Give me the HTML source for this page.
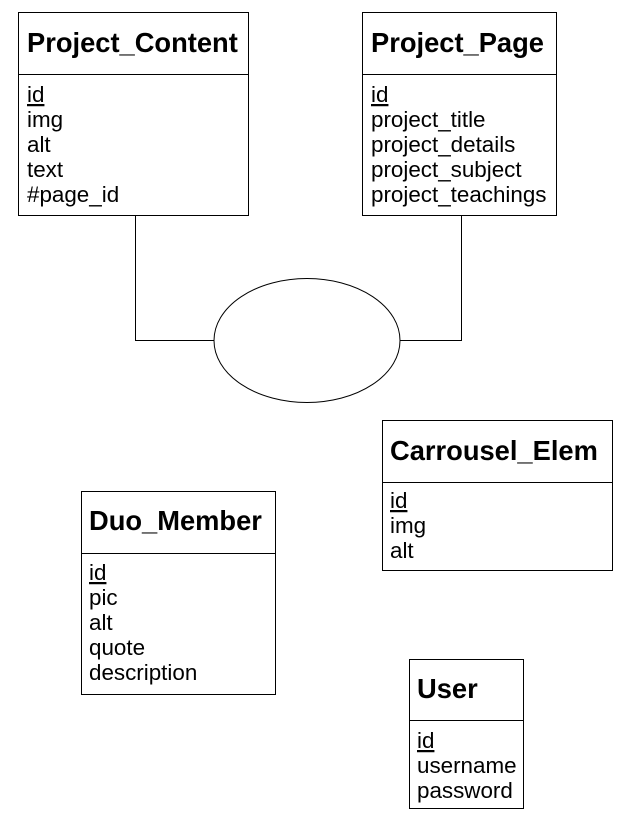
<!DOCTYPE html>
<html><head><meta charset="utf-8"><style>
html,body{margin:0;padding:0;background:#fff;}
svg{display:block;}
text{font-family:"Liberation Sans",sans-serif;fill:#000;}
.t{font-size:27.3px;font-weight:bold;}
.a{font-size:22.4px;}
</style></head><body>
<svg width="637" height="819" viewBox="0 0 637 819" xmlns="http://www.w3.org/2000/svg">
<g fill="none" stroke="#000" stroke-width="1">
<polyline points="135.5,215 135.5,340.5 214,340.5"/>
<polyline points="461.5,215 461.5,340.5 400,340.5"/>
<ellipse cx="307" cy="340.5" rx="93" ry="62"/>
<rect x="18.5" y="12.5" width="230" height="203"/><line x1="18.5" y1="74.5" x2="248.5" y2="74.5"/>
<rect x="362.5" y="12.5" width="194" height="203"/><line x1="362.5" y1="74.5" x2="556.5" y2="74.5"/>
<rect x="382.5" y="420.5" width="230" height="150"/><line x1="382.5" y1="482.5" x2="612.5" y2="482.5"/>
<rect x="81.5" y="491.5" width="194" height="203"/><line x1="81.5" y1="553.5" x2="275.5" y2="553.5"/>
<rect x="409.5" y="659.5" width="114" height="149"/><line x1="409.5" y1="720.5" x2="523.5" y2="720.5"/>
</g>
<text class="t" x="27" y="52">Project_Content</text>
<text class="a" x="27" y="102" text-decoration="underline">id</text>
<text class="a" x="27" y="127">img</text>
<text class="a" x="27" y="152">alt</text>
<text class="a" x="27" y="177">text</text>
<text class="a" x="27" y="202">#page_id</text>
<text class="t" x="371" y="52">Project_Page</text>
<text class="a" x="371" y="102" text-decoration="underline">id</text>
<text class="a" x="371" y="127">project_title</text>
<text class="a" x="371" y="152">project_details</text>
<text class="a" x="371" y="177">project_subject</text>
<text class="a" x="371" y="202">project_teachings</text>
<text class="t" x="390" y="460">Carrousel_Elem</text>
<text class="a" x="390" y="508" text-decoration="underline">id</text>
<text class="a" x="390" y="533">img</text>
<text class="a" x="390" y="558">alt</text>
<text class="t" x="89" y="530">Duo_Member</text>
<text class="a" x="89" y="580" text-decoration="underline">id</text>
<text class="a" x="89" y="605">pic</text>
<text class="a" x="89" y="630">alt</text>
<text class="a" x="89" y="655">quote</text>
<text class="a" x="89" y="680">description</text>
<text class="t" x="417" y="698">User</text>
<text class="a" x="417" y="748" text-decoration="underline">id</text>
<text class="a" x="417" y="773">username</text>
<text class="a" x="417" y="798">password</text>
</svg>
</body></html>
